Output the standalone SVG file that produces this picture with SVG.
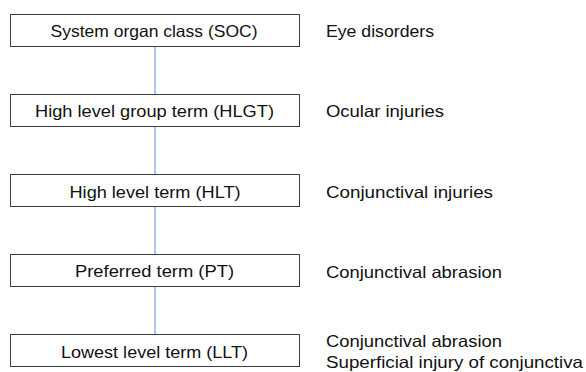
<svg xmlns="http://www.w3.org/2000/svg" width="586" height="372" viewBox="0 0 586 372">
<style>
.box{fill:#ffffff;stroke:#404040;stroke-width:1}
.t{font-family:"Liberation Sans",Arial,sans-serif;font-size:16.5px;fill:#111111}
.c{text-anchor:middle}
.conn{stroke:#8fb4e3;stroke-width:1.5;fill:none}
</style>
<rect width="586" height="372" fill="#ffffff"/>
<g id="connectors">
<line class="conn" x1="155" y1="47" x2="155" y2="94"/>
<line class="conn" x1="155" y1="127" x2="155" y2="174"/>
<line class="conn" x1="155" y1="207" x2="155" y2="254"/>
<line class="conn" x1="155" y1="287" x2="155" y2="334"/>
</g>
<g id="soc">
<rect class="box" x="10.5" y="14.5" width="289" height="32"/>
<text class="t c" x="154" y="37.3" textLength="207" lengthAdjust="spacingAndGlyphs">System organ class (SOC)</text>
<text class="t" x="326" y="36.8" textLength="108" lengthAdjust="spacingAndGlyphs">Eye disorders</text>
</g>
<g id="hlgt">
<rect class="box" x="10.5" y="94.5" width="289" height="32"/>
<text class="t c" x="154.5" y="116.7" textLength="239" lengthAdjust="spacingAndGlyphs">High level group term (HLGT)</text>
<text class="t" x="326" y="117" textLength="118" lengthAdjust="spacingAndGlyphs">Ocular injuries</text>
</g>
<g id="hlt">
<rect class="box" x="10.5" y="174.5" width="289" height="32"/>
<text class="t c" x="155" y="197.5" textLength="171" lengthAdjust="spacingAndGlyphs">High level term (HLT)</text>
<text class="t" x="326" y="198.3" textLength="167" lengthAdjust="spacingAndGlyphs">Conjunctival injuries</text>
</g>
<g id="pt">
<rect class="box" x="10.5" y="254.5" width="289" height="32"/>
<text class="t c" x="154.5" y="277.3" textLength="159" lengthAdjust="spacingAndGlyphs">Preferred term (PT)</text>
<text class="t" x="326" y="278.3" textLength="176" lengthAdjust="spacingAndGlyphs">Conjunctival abrasion</text>
</g>
<g id="llt">
<rect class="box" x="10.5" y="334.5" width="289" height="32"/>
<text class="t c" x="154.5" y="357.8" textLength="187" lengthAdjust="spacingAndGlyphs">Lowest level term (LLT)</text>
<text class="t" x="326" y="346.7" textLength="176" lengthAdjust="spacingAndGlyphs">Conjunctival abrasion</text>
<text class="t" x="326" y="368.3" textLength="257" lengthAdjust="spacingAndGlyphs">Superficial injury of conjunctiva</text>
</g>
</svg>
